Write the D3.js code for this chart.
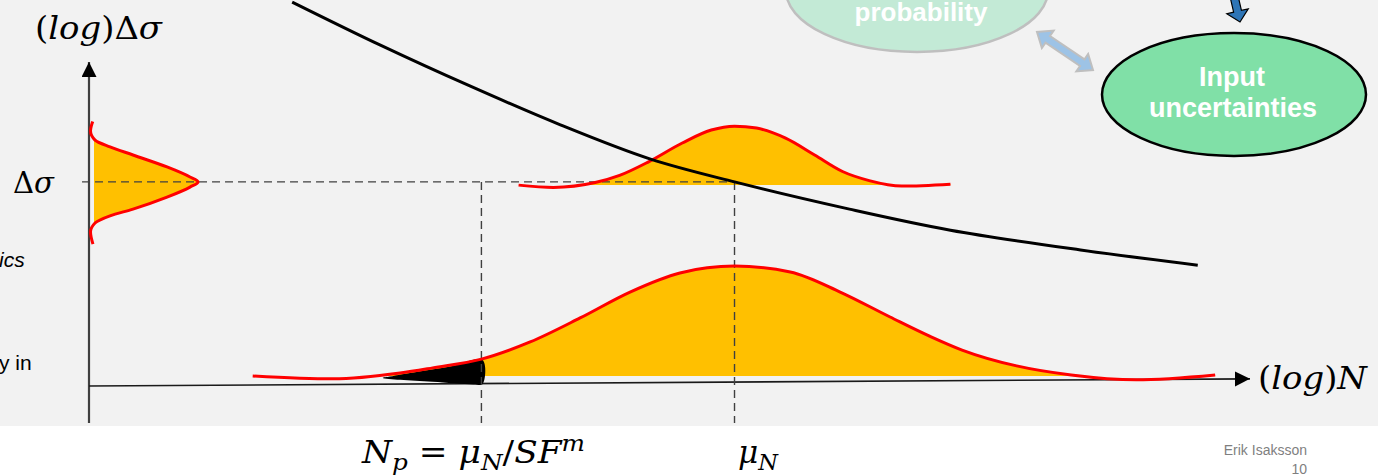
<!DOCTYPE html>
<html>
<head>
<meta charset="utf-8">
<script src="https://cdn.jsdelivr.net/npm/d3@7"></script>
<style>
  html, body { margin: 0; padding: 0; background: #fff; }
  svg { display: block; }
</style>
</head>
<body>
<svg id="chart" width="1378" height="476"></svg>
<script>
// values, in (log N, log Δσ) units
const muN = 5.56;
const nP = 3.38;
const dSigma = 6.30;

// S-N curve
const snCurve = [[1.75, 11.85], [2.51, 10.52], [3.28, 9.26], [4.06, 8.06], [4.83, 7.01],
  [5.56, 6.30], [6.55, 5.46], [7.42, 4.81], [8.54, 4.20], [9.55, 3.73]];

// stress distribution on the y axis: [width, log Δσ]
const stressBase = 0.043;
const stressDist = [[0.032, 8.16], [0.013, 7.87], [0.052, 7.59], [0.181, 7.38], [0.379, 7.13],
  [0.672, 6.76], [0.870, 6.45], [0.939, 6.30], [0.870, 6.14], [0.672, 5.83], [0.379, 5.46],
  [0.181, 5.25], [0.052, 5.03], [0.013, 4.75], [0.034, 4.38]];

// life distribution at Δσ
const lifeTopBase = 6.20;
const lifeTop = [[3.70, 6.20], [4.00, 6.13], [4.36, 6.28], [4.57, 6.50], [4.82, 6.92], [5.11, 7.50],
  [5.36, 7.90], [5.56, 8.02], [5.75, 7.96], [6.00, 7.65], [6.25, 7.13], [6.49, 6.62],
  [6.72, 6.34], [7.00, 6.17], [7.42, 6.23]];

// life distribution on the N axis
const lifeBase = 0.31;
const lifeBottom = [[1.41, 0.31], [2.10, 0.22], [2.68, 0.40], [2.96, 0.56], [3.38, 0.83], [3.80, 1.36],
  [4.23, 2.10], [4.66, 2.90], [5.09, 3.49], [5.56, 3.70], [6.04, 3.52], [6.47, 2.90],
  [6.90, 2.13], [7.24, 1.54], [7.52, 1.11], [7.99, 0.62], [8.46, 0.34], [9.02, 0.19], [9.70, 0.34]];

// failure region below N_p
const failRegion = [[2.59, 0.29], [2.83, 0.44], [3.11, 0.60], [3.39, 0.80], [3.39, 0.06],
  [3.31, 0.05], [2.96, 0.13], [2.68, 0.19], [2.53, 0.25]];

const width = 1378, height = 476;
const svg = d3.select('#chart');

const x = d3.scaleLinear().domain([0, 10]).range([89, 1250]);
const y = d3.scaleLinear().domain([0, 10]).range([386, 62]);

// slide background
svg.append('rect').attr('width', width).attr('height', 426).attr('fill', '#f2f2f2');

const defs = svg.append('defs');
defs.append('marker')
  .attr('id', 'arrow')
  .attr('markerUnits', 'userSpaceOnUse')
  .attr('markerWidth', 16).attr('markerHeight', 16)
  .attr('refX', 15).attr('refY', 7.5)
  .attr('orient', 'auto')
  .append('path').attr('d', 'M0,0 L15,7.5 L0,15 Z').attr('fill', '#000');

defs.append('clipPath').attr('id', 'clipTop')
  .append('rect').attr('x', 0).attr('y', 0).attr('width', width).attr('height', y(lifeTopBase));
defs.append('clipPath').attr('id', 'clipBottom')
  .append('rect').attr('x', 0).attr('y', 0).attr('width', width).attr('height', y(lifeBase));
defs.append('clipPath').attr('id', 'clipLeft')
  .append('rect').attr('x', x(stressBase)).attr('y', 0).attr('width', width).attr('height', height);

// axes
svg.append('line')
  .attr('x1', x(0)).attr('y1', y(-1.14)).attr('x2', x(0)).attr('y2', y(10))
  .attr('stroke', '#404040').attr('stroke-width', 2.2)
  .attr('marker-end', 'url(#arrow)');
svg.append('line')
  .attr('x1', x(0)).attr('y1', y(0)).attr('x2', x(10)).attr('y2', y(0.22))
  .attr('stroke', '#1a1a1a').attr('stroke-width', 1.6)
  .attr('marker-end', 'url(#arrow)');

const curveX = d3.curveMonotoneX;
const curveY = d3.curveMonotoneY;
const lineX = d3.line().x(d => x(d[0])).y(d => y(d[1])).curve(curveX);
const lineY = d3.line().x(d => x(d[0])).y(d => y(d[1])).curve(curveY);

// fills
svg.append('path')
  .datum(stressDist)
  .attr('clip-path', 'url(#clipLeft)')
  .attr('fill', '#ffc000')
  .attr('d', d3.area().curve(curveY).y(d => y(d[1])).x0(x(stressBase)).x1(d => x(d[0])));

svg.append('path')
  .datum(lifeTop)
  .attr('clip-path', 'url(#clipTop)')
  .attr('fill', '#ffc000')
  .attr('d', d3.area().curve(curveX).x(d => x(d[0])).y0(y(lifeTopBase)).y1(d => y(d[1])));

svg.append('path')
  .datum(lifeBottom)
  .attr('clip-path', 'url(#clipBottom)')
  .attr('fill', '#ffc000')
  .attr('d', d3.area().curve(curveX).x(d => x(d[0])).y0(y(lifeBase)).y1(d => y(d[1])));

svg.append('path')
  .datum(failRegion)
  .attr('fill', '#000')
  .attr('d', d3.line().x(d => x(d[0])).y(d => y(d[1])).curve(d3.curveCatmullRomClosed.alpha(0.5)));

// dashed guides
const dash = svg.append('g')
  .attr('stroke', '#404040').attr('stroke-width', 1.4).attr('stroke-dasharray', '8,5').attr('fill', 'none');
dash.append('line').attr('x1', x(-0.06)).attr('y1', y(dSigma)).attr('x2', x(muN)).attr('y2', y(dSigma));
dash.append('line').attr('x1', x(nP)).attr('y1', y(dSigma)).attr('x2', x(nP)).attr('y2', y(-1.14));
dash.append('line').attr('x1', x(muN)).attr('y1', y(dSigma)).attr('x2', x(muN)).attr('y2', y(-1.14));

// red outlines
svg.append('path').datum(stressDist).attr('d', lineY);
svg.append('path').datum(lifeTop).attr('d', lineX);
svg.append('path').datum(lifeBottom).attr('d', lineX);
svg.selectAll('path:not([fill])')
  .attr('fill', 'none')
  .attr('stroke', '#ff0000')
  .attr('stroke-width', 3);

// S-N curve
svg.append('path')
  .datum(snCurve)
  .attr('fill', 'none')
  .attr('stroke', '#000')
  .attr('stroke-width', 3)
  .attr('d', d3.line().x(d => x(d[0])).y(d => y(d[1])).curve(d3.curveCatmullRom.alpha(0.5)));

// math labels
const mathFont = '"DejaVu Serif", "Liberation Serif", serif';
function mathLabel(px, py, size, len, parts) {
  const t = svg.append('text')
    .attr('x', px).attr('y', py)
    .attr('font-family', mathFont)
    .attr('font-size', size)
    .attr('fill', '#000')
    .attr('textLength', len)
    .attr('lengthAdjust', 'spacingAndGlyphs');
  parts.forEach(p => {
    const s = t.append('tspan').text(p.t)
      .attr('font-style', p.i ? 'italic' : 'normal');
    if (p.dy) s.attr('dy', p.dy);
    if (p.s) s.attr('font-size', size * p.s);
  });
}

mathLabel(35, 39, 31, 127, [{ t: '(' }, { t: 'log', i: true }, { t: ')Δ' }, { t: 'σ', i: true }]);
mathLabel(13, 193, 30, 41, [{ t: 'Δ' }, { t: 'σ', i: true }]);
mathLabel(1258, 389, 31, 109, [{ t: '(' }, { t: 'log', i: true }, { t: ')' }, { t: 'N', i: true }]);
mathLabel(362, 463, 31, 223, [
  { t: 'N', i: true }, { t: 'p', i: true, s: 0.72, dy: 7 },
  { t: ' = ', dy: -7 }, { t: 'μ', i: true }, { t: 'N', i: true, s: 0.72, dy: 7 },
  { t: '/', dy: -7 }, { t: 'SF', i: true }, { t: 'm', i: true, s: 0.72, dy: -12 }
]);
mathLabel(738, 463, 31, 40, [{ t: 'μ', i: true }, { t: 'N', i: true, s: 0.72, dy: 7 }]);

// clipped side texts
svg.append('text').attr('x', -1).attr('y', 267)
  .attr('font-family', 'Liberation Sans, Arial, sans-serif').attr('font-size', 21)
  .attr('font-style', 'italic').attr('fill', '#000').text('ics');
svg.append('text').attr('x', -1).attr('y', 370)
  .attr('font-family', 'Liberation Sans, Arial, sans-serif').attr('font-size', 21)
  .attr('fill', '#000').text('y in');

// diagram bubbles
function arrowPoly(a, b, shaftW, headW, headL, both) {
  const dx = b[0] - a[0], dy = b[1] - a[1];
  const L = Math.hypot(dx, dy);
  const ux = dx / L, uy = dy / L, nx = -uy, ny = ux;
  const P = (t, n) => [a[0] + ux * t + nx * n, a[1] + uy * t + ny * n];
  const pts = [];
  if (both) {
    pts.push(P(0, 0), P(headL, headW / 2), P(headL, shaftW / 2));
  } else {
    pts.push(P(0, shaftW / 2));
  }
  pts.push(P(L - headL, shaftW / 2), P(L - headL, headW / 2), P(L, 0),
    P(L - headL, -headW / 2), P(L - headL, -shaftW / 2));
  if (both) {
    pts.push(P(headL, -shaftW / 2), P(headL, -headW / 2));
  } else {
    pts.push(P(0, -shaftW / 2));
  }
  return d3.line()(pts) + 'Z';
}

svg.append('ellipse')
  .attr('cx', 917).attr('cy', -9.5).attr('rx', 131).attr('ry', 61.5)
  .attr('fill', '#c3ead6').attr('stroke', '#bfbfbf').attr('stroke-width', 2.5);
svg.append('text').attr('x', 921).attr('y', 21).attr('text-anchor', 'middle')
  .attr('font-family', 'Liberation Sans, Arial, sans-serif').attr('font-weight', 'bold')
  .attr('font-size', 26).attr('fill', '#fff').text('probability');

svg.append('path')
  .attr('d', arrowPoly([1037, 32], [1093, 70], 8, 21, 13, true))
  .attr('fill', '#9dc3e6').attr('stroke', '#bfbfbf').attr('stroke-width', 2);

svg.append('path')
  .attr('d', arrowPoly([1234, -4], [1240, 22], 8, 22, 11, false))
  .attr('fill', '#2e75b6').attr('stroke', '#000').attr('stroke-width', 1.2);

svg.append('ellipse')
  .attr('cx', 1234).attr('cy', 94.5).attr('rx', 132).attr('ry', 61.5)
  .attr('fill', '#80e0a7').attr('stroke', '#000').attr('stroke-width', 2.5);
const inp = svg.append('text').attr('text-anchor', 'middle')
  .attr('font-family', 'Liberation Sans, Arial, sans-serif').attr('font-weight', 'bold')
  .attr('font-size', 27).attr('fill', '#fff');
inp.append('tspan').attr('x', 1232).attr('y', 86).text('Input');
inp.append('tspan').attr('x', 1233).attr('y', 117).text('uncertainties');

// footer
const foot = svg.append('g').attr('font-family', 'Liberation Sans, Arial, sans-serif')
  .attr('font-size', 14).attr('fill', '#7f7f7f').attr('text-anchor', 'end');
foot.append('text').attr('x', 1307).attr('y', 455).text('Erik Isaksson');
foot.append('text').attr('x', 1307).attr('y', 474).text('10');
</script>
</body>
</html>
